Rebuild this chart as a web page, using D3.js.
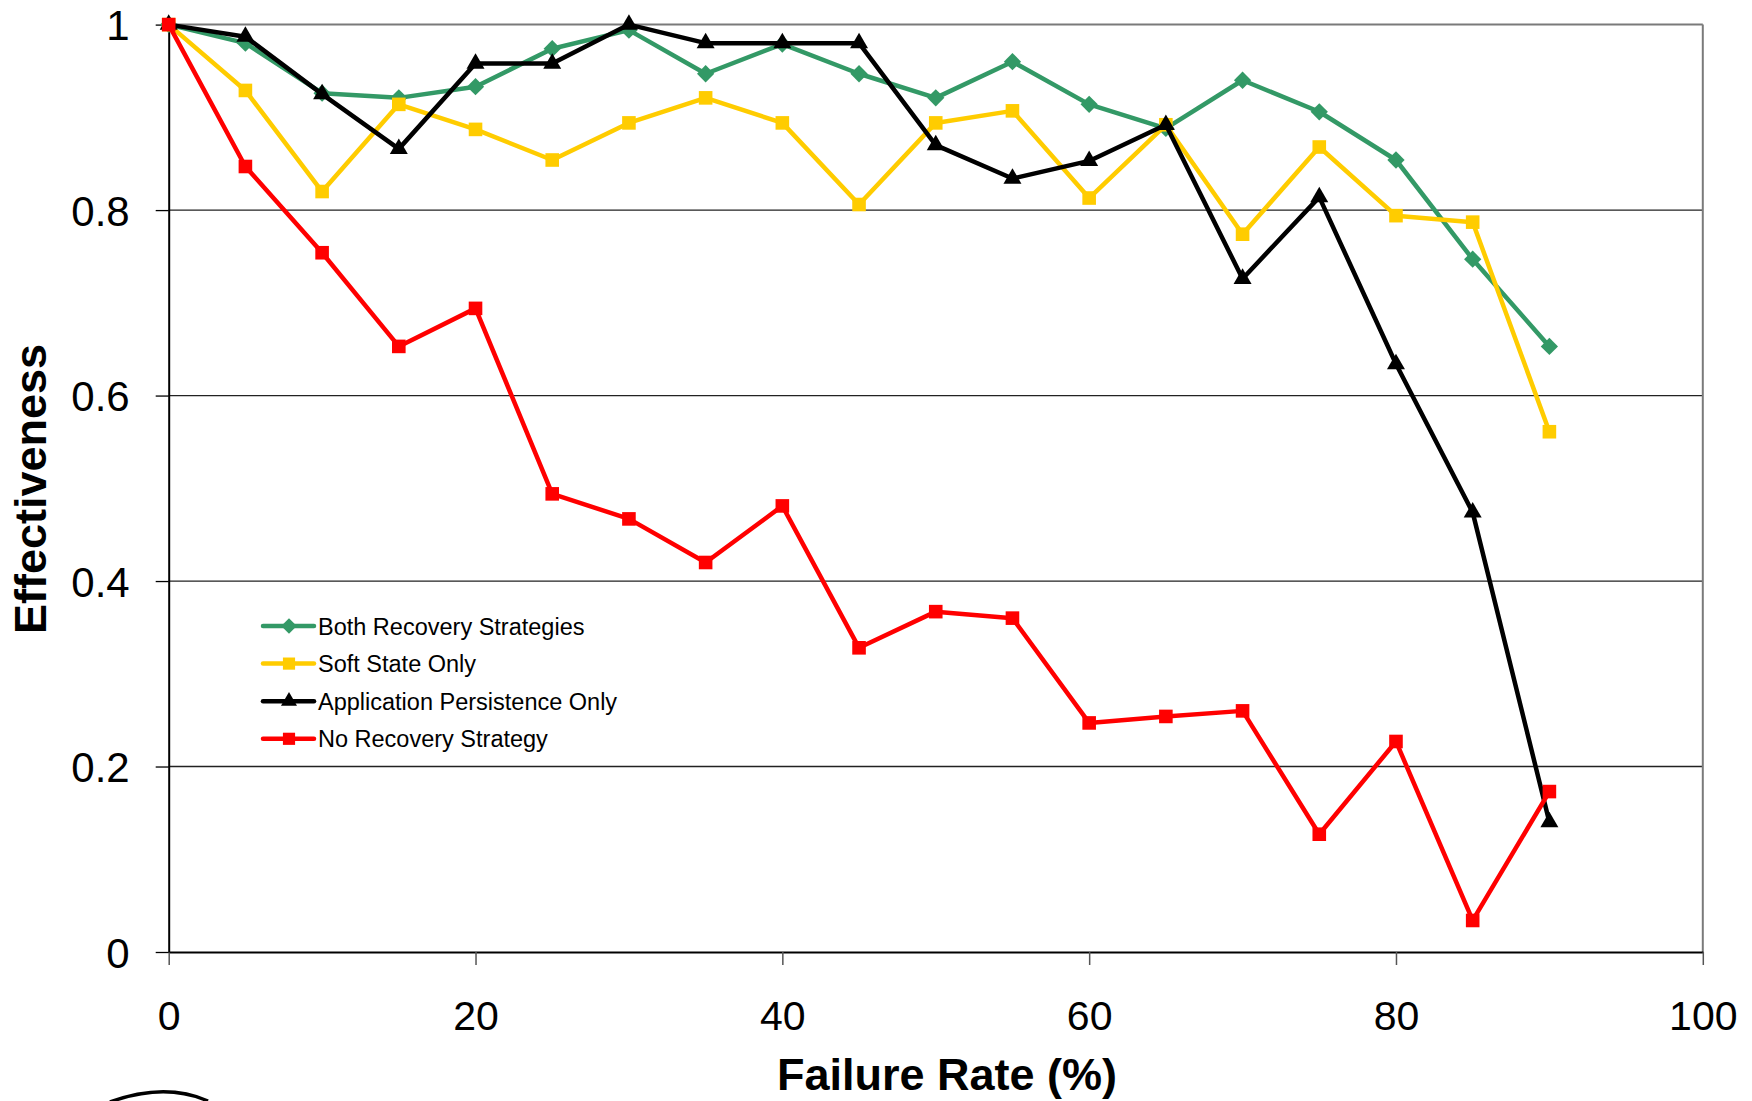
<!DOCTYPE html>
<html>
<head>
<meta charset="utf-8">
<script src="https://cdn.jsdelivr.net/npm/d3@7"></script>
<style>
  html, body { margin: 0; padding: 0; background: #fff; }
  svg { display: block; font-family: "Liberation Sans", Arial, sans-serif; }
</style>
</head>
<body>
<svg id="chart" width="1752" height="1101"></svg>
<script>
// Failure rate (%) at which each run was measured
const failureRates = [0, 5, 10, 15, 20, 25, 30, 35, 40, 45, 50, 55, 60, 65, 70, 75, 80, 85, 90];

// Effectiveness per recovery configuration
const bothRecovery   = [1.000, 0.980, 0.926, 0.921, 0.933, 0.974, 0.994, 0.947, 0.979, 0.947, 0.921, 0.960, 0.914, 0.888, 0.940, 0.906, 0.854, 0.747, 0.653];
const softStateOnly  = [1.000, 0.929, 0.820, 0.914, 0.887, 0.854, 0.894, 0.921, 0.894, 0.806, 0.894, 0.907, 0.813, 0.892, 0.774, 0.868, 0.794, 0.787, 0.561];
const appPersistOnly = [1.000, 0.987, 0.925, 0.866, 0.958, 0.958, 1.000, 0.980, 0.980, 0.980, 0.870, 0.834, 0.853, 0.892, 0.726, 0.814, 0.634, 0.474, 0.140];
const noRecovery     = [1.000, 0.847, 0.754, 0.653, 0.694, 0.494, 0.467, 0.420, 0.481, 0.328, 0.367, 0.360, 0.247, 0.254, 0.260, 0.127, 0.227, 0.034, 0.173];

const seriesNames = ["Both Recovery Strategies", "Soft State Only", "Application Persistence Only", "No Recovery Strategy"];

// Axis ticks
const xTicks = [0, 20, 40, 60, 80, 100];
const yTicks = [0, 0.2, 0.4, 0.6, 0.8, 1];
const yTickLabels = ["0", "0.2", "0.4", "0.6", "0.8", "1"];

const series = [
  { name: seriesNames[0], values: bothRecovery,   color: "#339966", marker: d3.symbolDiamond2, size: 190 },
  { name: seriesNames[1], values: softStateOnly,  color: "#FFCC00", marker: d3.symbolSquare,   size: 185 },
  { name: seriesNames[2], values: appPersistOnly, color: "#000000", marker: d3.symbolTriangle, size: 140 },
  { name: seriesNames[3], values: noRecovery,     color: "#FF0000", marker: d3.symbolSquare,   size: 185 }
];

const svg = d3.select("#chart");
const plot = { left: 168.7, right: 1702.8, top: 24.6, bottom: 952 };

const x = d3.scaleLinear().domain([0, 100]).range([plot.left, plot.right]);
const y = d3.scaleLinear().domain([0, 1]).range([plot.bottom, plot.top]);

// Horizontal gridlines
svg.append("g")
  .selectAll("line")
  .data(yTicks.filter(t => t > 0 && t < 1))
  .join("line")
  .attr("x1", plot.left).attr("x2", plot.right)
  .attr("y1", d => y(d)).attr("y2", d => y(d))
  .attr("stroke", "#222").attr("stroke-width", 1.3);

// Plot frame: top and right edges
svg.append("line")
  .attr("x1", plot.left).attr("x2", plot.right)
  .attr("y1", y(1)).attr("y2", y(1))
  .attr("stroke", "#7a7a7a").attr("stroke-width", 2);
svg.append("line")
  .attr("x1", plot.right).attr("x2", plot.right)
  .attr("y1", plot.top).attr("y2", plot.bottom)
  .attr("stroke", "#7a7a7a").attr("stroke-width", 2);

// X axis
const xAxis = svg.append("g")
  .attr("transform", `translate(0,${plot.bottom})`)
  .call(d3.axisBottom(x).tickValues(xTicks).tickSize(13).tickSizeOuter(0).tickPadding(36).tickFormat(d3.format("d")));
xAxis.select(".domain").attr("stroke", "#000").attr("stroke-width", 2);
xAxis.selectAll(".tick line").attr("stroke", "#555").attr("stroke-width", 1.5);
xAxis.selectAll(".tick text")
  .attr("font-size", 41).attr("fill", "#000")
  .attr("font-family", "'Liberation Sans', Arial, sans-serif");

// Y axis
const yAxis = svg.append("g")
  .attr("transform", `translate(${plot.left},0)`)
  .call(d3.axisLeft(y).tickValues(yTicks).tickSize(13).tickSizeOuter(0).tickPadding(26)
    .tickFormat((d, i) => yTickLabels[i]));
yAxis.select(".domain").attr("stroke", "#000").attr("stroke-width", 2);
yAxis.selectAll(".tick line").attr("stroke", "#000").attr("stroke-width", 1.3);
yAxis.selectAll(".tick text")
  .attr("font-size", 42).attr("fill", "#000").attr("dy", "0.36em")
  .attr("font-family", "'Liberation Sans', Arial, sans-serif");

// Axis titles
svg.append("text")
  .attr("x", 947).attr("y", 1090)
  .attr("text-anchor", "middle")
  .attr("font-size", 45).attr("font-weight", "bold")
  .text("Failure Rate (%)");

svg.append("text")
  .attr("transform", "translate(46,489) rotate(-90)")
  .attr("text-anchor", "middle")
  .attr("font-size", 45).attr("font-weight", "bold")
  .text("Effectiveness");

// Series lines and markers
const line = d3.line()
  .x((d, i) => x(failureRates[i]))
  .y(d => y(d));

const seriesG = svg.append("g");
series.forEach(s => {
  const g = seriesG.append("g");
  g.append("path")
    .datum(s.values)
    .attr("d", line)
    .attr("fill", "none")
    .attr("stroke", s.color)
    .attr("stroke-width", 4.5)
    .attr("stroke-linejoin", "round");
  g.selectAll("path.marker")
    .data(s.values)
    .join("path")
    .attr("class", "marker")
    .attr("d", d3.symbol().type(s.marker).size(s.size))
    .attr("transform", (d, i) => `translate(${x(failureRates[i])},${y(d)})`)
    .attr("fill", s.color);
});

// Legend
const legend = svg.append("g").attr("transform", "translate(263,626)");
const legendRow = 37.6;
series.forEach((s, i) => {
  const row = legend.append("g").attr("transform", `translate(0,${i * legendRow})`);
  row.append("line")
    .attr("x1", 0).attr("x2", 51).attr("y1", 0).attr("y2", 0)
    .attr("stroke", s.color).attr("stroke-width", 4.5).attr("stroke-linecap", "round");
  row.append("path")
    .attr("d", d3.symbol().type(s.marker).size(s.size * 0.8))
    .attr("transform", "translate(26,0)")
    .attr("fill", s.color);
  row.append("text")
    .attr("x", 55).attr("y", 8.5)
    .attr("font-size", 23.5).attr("fill", "#000")
    .text(s.name);
});

// Edge of the logo stroke at the lower left
svg.append("path")
  .attr("d", "M110,1102 Q165,1082 208,1101")
  .attr("fill", "none")
  .attr("stroke", "#000")
  .attr("stroke-width", 3.5);
</script>
</body>
</html>
